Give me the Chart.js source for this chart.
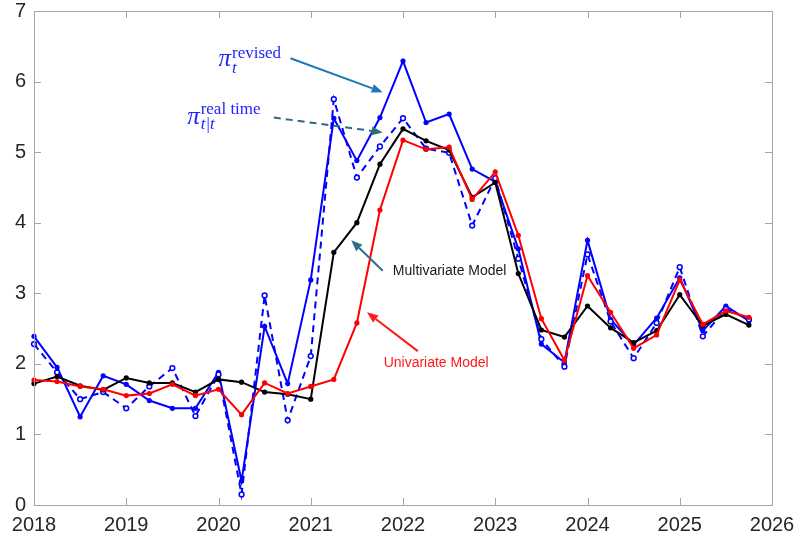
<!DOCTYPE html>
<html>
<head>
<meta charset="utf-8">
<script src="https://cdn.jsdelivr.net/npm/chart.js@4/dist/chart.umd.min.js"></script>
<style>
  html, body { margin: 0; padding: 0; background: #ffffff; }
  #wrap { width: 800px; height: 540px; position: relative; }
</style>
</head>
<body>
<div id="wrap"><canvas id="c" width="800" height="540"></canvas></div>
<script>
// Quarterly dates (decimal years)
const dates = [2018.00, 2018.25, 2018.50, 2018.75, 2019.00, 2019.25, 2019.50, 2019.75,
               2020.00, 2020.25, 2020.50, 2020.75, 2021.00, 2021.25, 2021.50, 2021.75,
               2022.00, 2022.25, 2022.50, 2022.75, 2023.00, 2023.25, 2023.50, 2023.75,
               2024.00, 2024.25, 2024.50, 2024.75, 2025.00, 2025.25, 2025.50, 2025.75];

// pi_t^revised (blue solid)
const revised = [2.39, 1.95, 1.25, 1.83, 1.71, 1.48, 1.37, 1.37,
                 1.88, 0.34, 2.53, 1.72, 3.19, 5.48, 4.88, 5.49,
                 6.29, 5.42, 5.54, 4.76, 4.58, 3.63, 2.28, 2.02,
                 3.75, 2.63, 2.27, 2.65, 3.22, 2.47, 2.82, 2.61];

// pi_{t|t}^{real time} (blue dashed)
const realTime = [2.28, 1.88, 1.50, 1.60, 1.37, 1.68, 1.94, 1.26,
                  1.85, 0.15, 2.97, 1.20, 2.11, 5.75, 4.64, 5.08,
                  5.48, 5.05, 4.99, 3.96, 4.63, 3.49, 2.35, 1.96,
                  3.55, 2.60, 2.08, 2.58, 3.37, 2.39, 2.78, 2.63];

// Multivariate Model (black)
const multivariate = [1.72, 1.82, 1.69, 1.63, 1.80, 1.73, 1.73, 1.60,
                      1.78, 1.74, 1.60, 1.57, 1.50, 3.58, 4.00, 4.83,
                      5.33, 5.16, 5.03, 4.36, 4.57, 3.28, 2.48, 2.38,
                      2.82, 2.51, 2.30, 2.47, 2.98, 2.54, 2.70, 2.55];

// Univariate Model (red)
const univariate = [1.77, 1.75, 1.68, 1.64, 1.55, 1.58, 1.71, 1.55,
                    1.64, 1.28, 1.73, 1.58, 1.68, 1.78, 2.58, 4.18,
                    5.17, 5.04, 5.07, 4.33, 4.72, 3.82, 2.64, 2.05,
                    3.25, 2.73, 2.22, 2.41, 3.19, 2.56, 2.75, 2.66];

const xTicks = [2018, 2019, 2020, 2021, 2022, 2023, 2024, 2025, 2026];
const yTicks = [0, 1, 2, 3, 4, 5, 6, 7];

const pts = (arr) => dates.map((d, i) => ({ x: d, y: arr[i] }));

const BLUE = '#0000ff', RED = '#ff0000', BLACK = '#000000';

// Annotations in data coordinates
const arrows = [
  { from: [2020.78, 6.33], to: [2021.78, 5.85], color: '#1f78b4', dash: [] },
  { from: [2020.60, 5.49], to: [2021.78, 5.28], color: '#2b6b7d', dash: [7, 5] },
  { from: [2021.78, 3.32], to: [2021.44, 3.75], color: '#2f6f86', dash: [] },
  { from: [2022.16, 2.18], to: [2021.61, 2.73], color: '#ff1a1a', dash: [] }
];

const annot = {
  id: 'annot',
  afterDatasetsDraw(chart) {
    const ctx = chart.ctx;
    const xs = chart.scales.x, ys = chart.scales.y;
    const a = chart.chartArea;
    const P = (p) => [xs.getPixelForValue(p[0]), ys.getPixelForValue(p[1])];
    ctx.save();
    // Frame
    ctx.strokeStyle = '#a6a6a6';
    ctx.lineWidth = 1;
    ctx.setLineDash([]);
    ctx.strokeRect(Math.round(a.left) + 0.5, Math.round(a.top) + 0.5,
                   Math.round(a.right - a.left), Math.round(a.bottom - a.top));
    // inward ticks
    const tl = 7;
    ctx.beginPath();
    xTicks.forEach(v => {
      const px = Math.round(xs.getPixelForValue(v)) + 0.5;
      ctx.moveTo(px, a.bottom); ctx.lineTo(px, a.bottom - tl);
      ctx.moveTo(px, a.top); ctx.lineTo(px, a.top + tl);
    });
    yTicks.forEach(v => {
      const py = Math.round(ys.getPixelForValue(v)) + 0.5;
      ctx.moveTo(a.left, py); ctx.lineTo(a.left + tl, py);
      ctx.moveTo(a.right, py); ctx.lineTo(a.right - tl, py);
    });
    ctx.stroke();

    // arrows
    arrows.forEach(ar => {
      const [x1, y1] = P(ar.from), [x2, y2] = P(ar.to);
      const ang = Math.atan2(y2 - y1, x2 - x1);
      const hl = 11, hw = 4.5;
      const bx = x2 - hl * Math.cos(ang), by = y2 - hl * Math.sin(ang);
      ctx.strokeStyle = ar.color;
      ctx.fillStyle = ar.color;
      ctx.lineWidth = 2;
      ctx.setLineDash(ar.dash);
      ctx.beginPath(); ctx.moveTo(x1, y1); ctx.lineTo(bx, by); ctx.stroke();
      ctx.setLineDash([]);
      ctx.beginPath();
      ctx.moveTo(x2, y2);
      ctx.lineTo(bx + hw * Math.sin(ang), by - hw * Math.cos(ang));
      ctx.lineTo(bx - hw * Math.sin(ang), by + hw * Math.cos(ang));
      ctx.closePath(); ctx.fill();
    });

    // math labels
    ctx.fillStyle = '#2323ff';
    ctx.textBaseline = 'alphabetic';
    ctx.textAlign = 'left';
    let [lx, ly] = P([2020.00, 6.225]);
    ctx.font = 'italic 25px "Liberation Serif", "DejaVu Serif", serif';
    ctx.fillText('π', lx, ly);
    let w = ctx.measureText('π').width;
    ctx.font = '17px "Liberation Serif", "DejaVu Serif", serif';
    ctx.fillText('revised', lx + w + 1, ly - 8);
    ctx.font = 'italic 17px "Liberation Serif", "DejaVu Serif", serif';
    ctx.fillText('t', lx + w + 1, ly + 7);

    [lx, ly] = P([2019.66, 5.40]);
    ctx.font = 'italic 25px "Liberation Serif", "DejaVu Serif", serif';
    ctx.fillText('π', lx, ly);
    w = ctx.measureText('π').width;
    ctx.font = '17px "Liberation Serif", "DejaVu Serif", serif';
    ctx.fillText('real time', lx + w + 1, ly - 10);
    ctx.font = 'italic 17px "Liberation Serif", "DejaVu Serif", serif';
    ctx.fillText('t|t', lx + w + 1, ly + 5);

    // model labels
    ctx.textBaseline = 'middle';
    ctx.font = '14px "Liberation Sans", Arial, sans-serif';
    ctx.fillStyle = '#1a1a1a';
    [lx, ly] = P([2021.89, 3.31]);
    ctx.fillText('Multivariate Model', lx, ly);
    ctx.fillStyle = '#ff1a1a';
    [lx, ly] = P([2021.79, 2.01]);
    ctx.fillText('Univariate Model', lx, ly);
    ctx.restore();
  }
};

const common = { borderWidth: 2, tension: 0, clip: 6 };

new Chart(document.getElementById('c'), {
  type: 'line',
  data: {
    datasets: [
      Object.assign({ label: 'revised', data: pts(revised), borderColor: BLUE, backgroundColor: BLUE,
        pointRadius: 2.6, pointBorderWidth: 0, pointBackgroundColor: BLUE, order: 4 }, common),
      Object.assign({ label: 'real time', data: pts(realTime), borderColor: BLUE, backgroundColor: '#ffffff',
        borderDash: [7, 5], pointRadius: 2.4, pointBorderWidth: 1.5,
        pointBorderColor: BLUE, pointBackgroundColor: '#ffffff', order: 3 }, common),
      Object.assign({ label: 'Multivariate Model', data: pts(multivariate), borderColor: BLACK, backgroundColor: BLACK,
        pointRadius: 2.6, pointBorderWidth: 0, pointBackgroundColor: BLACK, order: 2 }, common),
      Object.assign({ label: 'Univariate Model', data: pts(univariate), borderColor: RED, backgroundColor: RED,
        pointRadius: 2.6, pointBorderWidth: 0, pointBackgroundColor: RED, order: 1 }, common)
    ]
  },
  options: {
    responsive: false,
    animation: false,
    devicePixelRatio: 1,
    layout: { padding: { left: 0, right: 28, top: 11, bottom: 0 } },
    plugins: { legend: { display: false }, tooltip: { enabled: false } },
    scales: {
      x: {
        type: 'linear', min: 2018, max: 2026,
        afterBuildTicks: (s) => { s.ticks = xTicks.map(v => ({ value: v })); },
        afterFit: (s) => { s.height = 35; s.paddingLeft = 0; s.paddingRight = 0; },
        grid: { display: false, drawTicks: false },
        border: { display: false },
        ticks: {
          color: '#262626', padding: 8, maxRotation: 0, autoSkip: false,
          font: { family: '"Liberation Sans", Arial, sans-serif', size: 20 },
          callback: (v) => String(v)
        }
      },
      y: {
        type: 'linear', min: 0, max: 7,
        afterBuildTicks: (s) => { s.ticks = yTicks.map(v => ({ value: v })); },
        afterFit: (s) => { s.width = 34; s.paddingTop = 0; s.paddingBottom = 0; },
        grid: { display: false, drawTicks: false },
        border: { display: false },
        ticks: {
          color: '#262626', padding: 8, autoSkip: false,
          font: { family: '"Liberation Sans", Arial, sans-serif', size: 20 },
          callback: (v) => String(v)
        }
      }
    }
  },
  plugins: [annot]
});
</script>
</body>
</html>
